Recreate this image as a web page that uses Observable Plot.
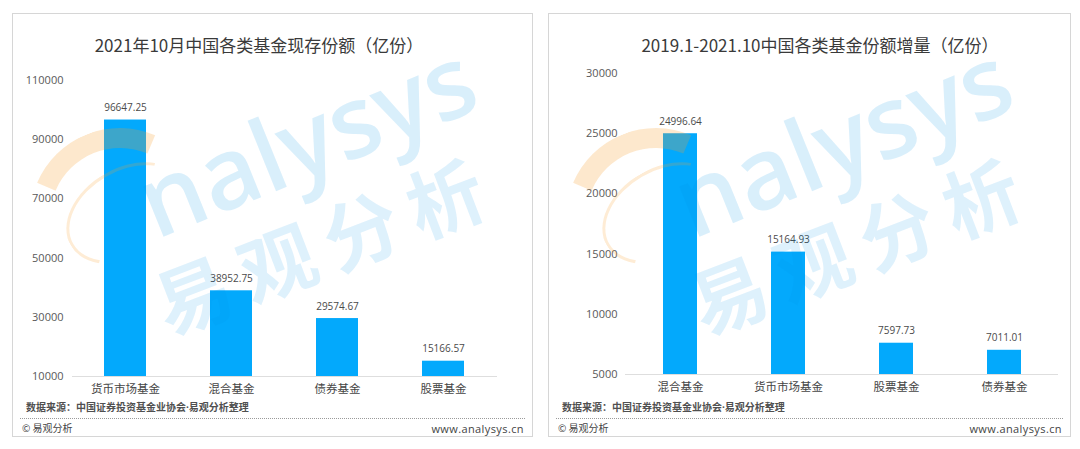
<!DOCTYPE html>
<html>
<head>
<meta charset="utf-8">
<script src="https://cdn.jsdelivr.net/npm/d3@7"></script>
<script src="https://cdn.jsdelivr.net/npm/@observablehq/plot@0.6"></script>
<style>
  html, body { margin: 0; padding: 0; background: #fff; }
  body { width: 1080px; height: 449px; position: relative; overflow: hidden;
         font-family: "Noto Sans CJK SC", "Open Sans", sans-serif; }
  .panel { position: absolute; box-sizing: border-box; border: 1px solid #d6d6d6; background: #fff; }
  .title { position: absolute; width: 600px; text-align: center; font-size: 17px; font-weight: 400;
           color: #3a3a3a; line-height: 22px; white-space: nowrap; }
  .chart { position: absolute; z-index: 1; }
  .source { position: absolute; font-size: 10px; font-weight: 700; color: #505050; line-height: 14px; white-space: nowrap; }
  .source .dot { font-family: "Open Sans", sans-serif; }
  .dots { position: absolute; height: 0; border-top: 1px dotted #9a9a9a; }
  .copy { position: absolute; font-size: 10px; color: #444; line-height: 14px; white-space: nowrap; }
  .www { position: absolute; font-family: "Open Sans", sans-serif; font-size: 11px; color: #444;
         line-height: 14px; letter-spacing: 0.4px; text-align: right; white-space: nowrap; }
  .wm { position: absolute; z-index: 2; pointer-events: none; }
  .wm-en { font-family: "Open Sans", sans-serif; font-weight: 600; font-size: 100px; color: rgba(0,150,230,0.15);
           transform-origin: left bottom; transform: rotate(-22deg); line-height: 1; white-space: nowrap; }
  .wm-cn { font-family: "Noto Sans CJK SC", sans-serif; font-weight: 700; font-size: 76px; letter-spacing: 14px;
           color: rgba(0,150,230,0.13); transform-origin: left bottom; transform: rotate(-21deg); line-height: 1; white-space: nowrap; }
  .wm-arc { border-radius: 50%; box-sizing: border-box; border: 20px solid transparent;
            border-top-color: rgba(247,160,48,0.24); transform: rotate(-22deg); }
  .wm-ring { border-radius: 50%; box-sizing: border-box; border: 3px solid transparent;
             border-top-color: rgba(247,160,48,0.2); border-left-color: rgba(247,160,48,0.2); transform: rotate(-30deg); }
</style>
</head>
<body>
<script>
// ---------- data ----------
const leftTitle = "2021年10月中国各类基金现存份额（亿份）";
const leftCategories = ["货币市场基金", "混合基金", "债券基金", "股票基金"];
const leftValues = [96647.25, 38952.75, 29574.67, 15166.57];
const leftTicks = [10000, 30000, 50000, 70000, 90000, 110000];

const rightTitle = "2019.1-2021.10中国各类基金份额增量（亿份）";
const rightCategories = ["混合基金", "货币市场基金", "股票基金", "债券基金"];
const rightValues = [24996.64, 15164.93, 7597.73, 7011.01];
const rightTicks = [5000, 10000, 15000, 20000, 25000, 30000];

const sourceParts = ["数据来源：中国证券投资基金业协会", "·", "易观分析整理"];
const copyText = "© 易观分析";
const siteText = "www.analysys.cn";

// ---------- layout ----------
const barColor = "#03a9fc";
const panels = [
  { title: leftTitle, cats: leftCategories, vals: leftValues, ticks: leftTicks,
    left: 12, width: 521, titleCenter: 259,
    m: { top: 20, bottom: 24, left: 60, right: 36 }, tickPad: 9, padIn: 0.6, padOut: 0.3 },
  { title: rightTitle, cats: rightCategories, vals: rightValues, ticks: rightTicks,
    left: 548, width: 523, titleCenter: 820,
    m: { top: 13, bottom: 26, left: 77, right: 13 }, tickPad: 8, padIn: 0.686, padOut: 0.343 }
];

const body = document.body;
function add(cls, style, text) {
  const d = document.createElement("div");
  d.className = cls;
  Object.assign(d.style, style);
  if (text != null) d.textContent = text;
  body.appendChild(d);
  return d;
}

panels.forEach(p => {
  add("panel", { left: p.left + "px", top: "13px", width: p.width + "px", height: "424px" });
  add("title", { left: (p.titleCenter - 300) + "px", top: "34px" }, p.title);

  const data = p.cats.map((c, i) => ({ cat: c, value: p.vals[i] }));
  const base = p.ticks[0];
  const svg = Plot.plot({
    width: p.width,
    height: 340,
    marginTop: p.m.top,
    marginBottom: p.m.bottom,
    marginLeft: p.m.left,
    marginRight: p.m.right,
    style: { background: "transparent", fontFamily: "'Open Sans', 'Noto Sans CJK SC', sans-serif",
             fontSize: "11px", color: "#595959" },
    x: { domain: p.cats, paddingInner: p.padIn, paddingOuter: p.padOut, tickSize: 0, tickPadding: 8, label: null },
    y: { domain: [p.ticks[0], p.ticks[p.ticks.length - 1]], ticks: p.ticks, tickFormat: d => String(d),
         tickSize: 0, tickPadding: p.tickPad, label: null },
    marks: [
      Plot.ruleY([base], { stroke: "#dedede", strokeWidth: 1 }),
      Plot.barY(data, { x: "cat", y1: base, y2: "value", fill: barColor }),
      Plot.text(data, { x: "cat", y: "value", text: d => d.value.toFixed(2), dy: -12,
                        fontSize: 10, fill: "#4a4a4a" })
    ]
  });
  svg.classList.add("chart");
  svg.style.left = p.left + "px";
  svg.style.top = "60px";
  body.appendChild(svg);
  d3.select(svg).selectAll('g[aria-label^="x-axis"] text')
    .attr("font-size", 11.5).attr("fill", "#454545")
    .style("font-family", "'Noto Sans CJK SC', sans-serif");

  const src = add("source", { left: (p.left + 14) + "px", top: "400px" });
  sourceParts.forEach((t, i) => {
    const s = document.createElement("span");
    if (i === 1) s.className = "dot";
    s.textContent = t;
    src.appendChild(s);
  });
  add("dots", { left: (p.left + 8) + "px", top: "418px", width: (p.width - 16) + "px" });
  add("copy", { left: (p.left + 10) + "px", top: "421px" }, copyText);
  add("www", { left: (p.left + p.width - 209) + "px", top: "422px", width: "200px" }, siteText);

  // faint watermark
  add("wm wm-arc", { left: (p.left + 18) + "px", top: "128px", width: "180px", height: "180px" });
  add("wm wm-ring", { left: (p.left + 50) + "px", top: "168px", width: "130px", height: "90px" });
  add("wm wm-en", { left: (p.left + 148) + "px", top: "150px" }, "nalysys");
  add("wm wm-cn", { left: (p.left + 158) + "px", top: "265px" }, "易观分析");
});
</script>
</body>
</html>
